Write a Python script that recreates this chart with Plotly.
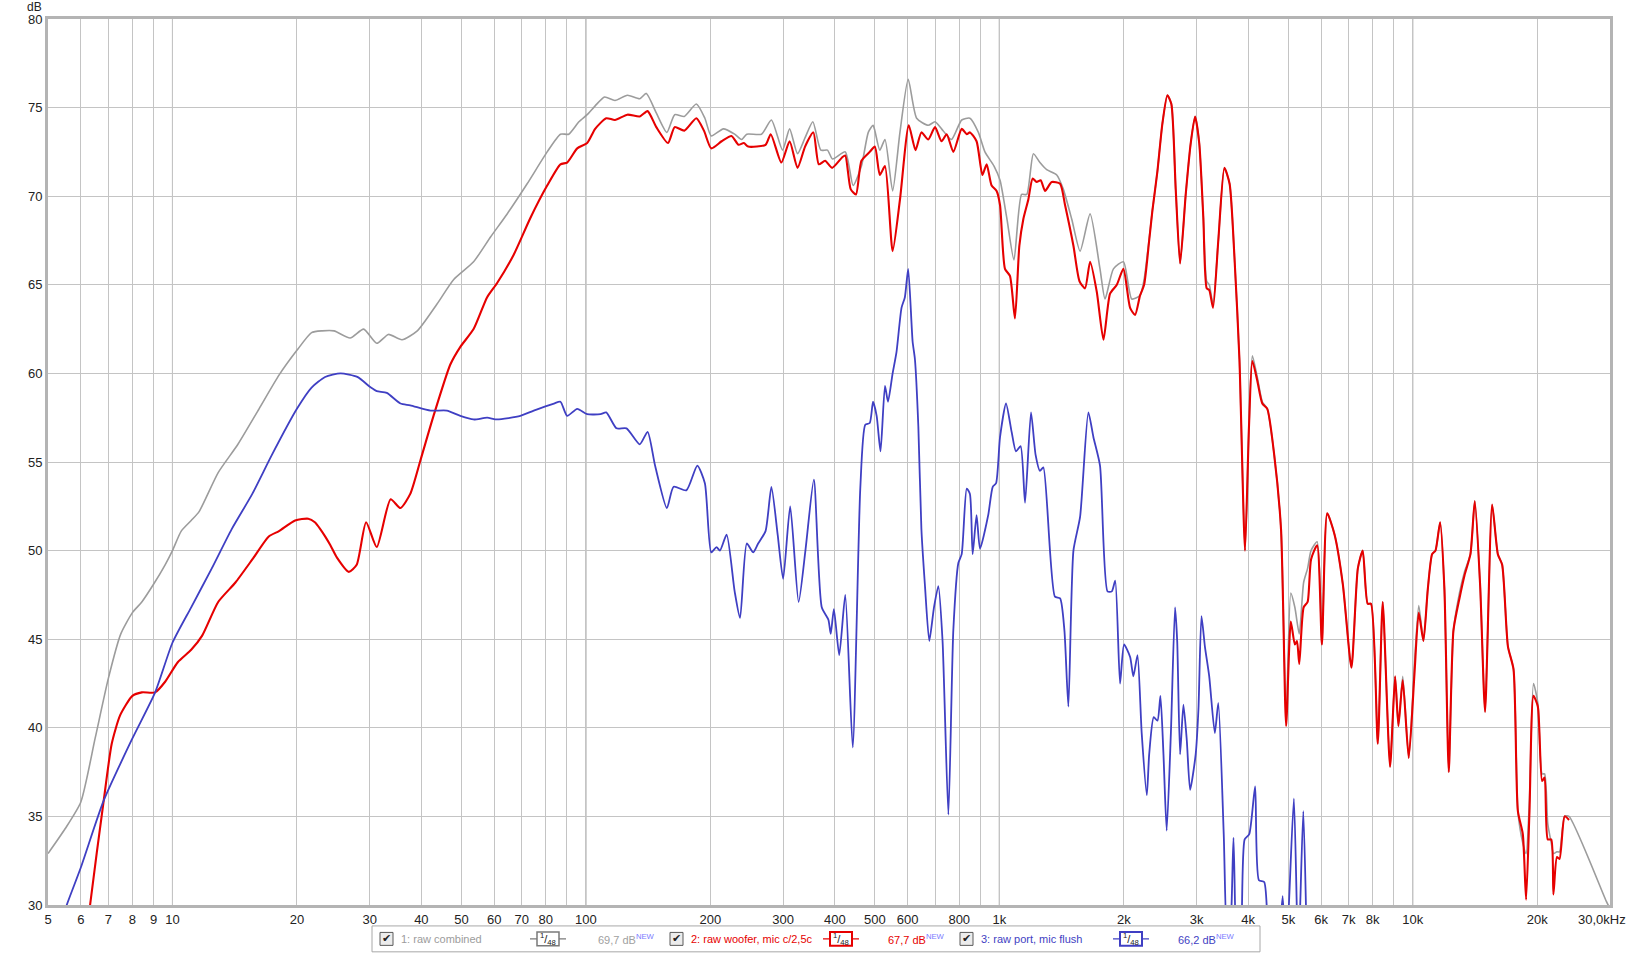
import math
import plotly.graph_objects as go

# ---------------- data ----------------
combined_freq = [5.0, 5.5, 6.0, 6.5, 7.0, 7.5, 8.0, 8.43, 9.0, 9.6, 10.0, 10.5, 11.1, 11.6, 12.9, 14.4, 16.2, 18.1,
                 20.0, 21.7, 23.0, 24.6, 26.9, 29.0, 31.2, 33.3, 35.9, 39.1, 43.6, 47.9, 53.5, 58.8, 64.5, 72.1,
                 80.6, 86.8, 90.9, 96.2, 100.7, 105.3, 111, 117.6, 126, 135, 140, 148, 157, 164, 173, 185, 194,
                 201, 215, 229, 238, 245, 266, 281, 299, 311, 325, 339, 354, 370, 384, 395, 424, 443, 464, 482,
                 495, 500, 514, 529, 552, 575, 602, 631, 673, 699, 725, 766, 811, 849, 890, 923, 971, 1004, 1042,
                 1085, 1132, 1165, 1209, 1254, 1302, 1377, 1428, 1497, 1568, 1658, 1752, 1802, 1888, 1996, 2091,
                 2190, 2240, 2346, 2412, 2480, 2550, 2607, 2671, 2737, 2824, 2904, 2975, 3045, 3115, 3174, 3220,
                 3288, 3386, 3503, 3606, 3704, 3809, 3929, 4017, 4093, 4206, 4326, 4448, 4623, 4802, 4940, 5071,
                 5186, 5315, 5446, 5568, 5675, 5871, 6030, 6210, 6471, 6775, 7107, 7366, 7569, 7780, 7925, 8230,
                 8460, 8812, 9064, 9233, 9458, 9779, 10093, 10340, 10613, 10872, 11139, 11350, 11646, 11930,
                 12222, 12545, 12970, 13340, 13790, 14127, 14558, 14960, 15560, 16063, 16455, 16990, 17530,
                 17960, 18460, 18800, 19160, 19590, 20070, 20550, 20840, 21210, 21630, 21890, 22320, 22650,
                 23300, 23880, 29400, 30000]
combined_db = [32.9, 34.3, 35.8, 39.4, 42.8, 45.3, 46.5, 47.1, 48.1, 49.2, 50.0, 51.1, 51.7, 52.2, 54.4, 56.0, 58.0, 59.9,
               61.3, 62.3, 62.4, 62.4, 62.0, 62.5, 61.7, 62.2, 61.9, 62.4, 63.9, 65.3, 66.3, 67.7, 69.0, 70.7,
               72.5, 73.5, 73.5, 74.2, 74.6, 75.1, 75.6, 75.4, 75.7, 75.5, 75.8, 74.7, 73.6, 74.6, 74.5, 75.2, 74.4,
               73.4, 73.8, 73.5, 73.2, 73.5, 73.5, 74.3, 72.6, 73.8, 72.4, 73.3, 74.2, 72.6, 72.6, 72.1, 72.5, 70.6, 71.7, 73.6,
               74.0, 73.7, 72.6, 73.2, 70.3, 73.6, 76.6, 74.4, 74.0, 74.2, 73.8, 73.2, 74.3, 74.4, 73.6, 72.5, 71.7, 70.9, 68.8,
               66.4, 70.1, 70.1, 72.4, 71.9, 71.5, 71.2, 70.4, 68.7, 66.9, 69.0, 65.9, 64.2, 65.9, 66.3, 64.2,
               64.4, 65.3, 69.2, 71.4, 74.1, 75.7, 75.2, 70.4, 66.2, 70.1, 73.0, 74.5, 73.0, 68.8, 65.2, 65.0,
               63.9, 67.5, 71.6, 70.7, 66.6, 60.8, 50.0, 57.0, 61.0, 59.8, 58.4, 58.0, 55.4, 51.2, 40.5, 47.6,
               46.8, 45.3, 48.2, 49.0, 50.0, 50.5, 44.7, 52.1, 50.9, 48.1, 43.4, 49.0, 50.0, 47.0, 47.0, 39.1,
               47.1, 37.8, 42.9, 40.1, 42.9, 38.3, 43.5, 46.9, 44.9, 47.8, 49.8, 50.0, 51.6, 47.8,
               37.5, 45.5, 47.6, 48.8, 49.8, 52.8, 48.0, 40.9, 52.6, 49.8, 49.2, 44.6, 43.3,
               35.3, 33.5, 32.9, 36.0, 42.5, 41.4, 37.4, 37.4, 34.6, 33.5, 32.9, 33.0, 33.0,
               35.0, 35.0, 30.2, 29.8]

woofer_freq = [6.2, 6.32, 6.82, 7.13, 7.47, 8.0, 8.43, 9.08, 9.6, 10.3, 11.1, 11.8, 12.9, 14.2, 15.6, 17.1, 18.1, 19.8,
               21.3, 22.1, 22.8, 23.4, 24.1, 25.0, 26.7, 27.9, 29.4, 31.2, 33.7, 35.6, 37.6, 39.8, 42.8, 47.0, 49.7,
               53.5, 57.7, 61.0, 66.9, 73.5, 80.6, 86.8, 90.1, 95.3, 100.7, 105.3, 112, 117.6, 126, 135, 141, 148,
               158, 164, 173, 185, 193, 201, 213, 225, 234, 241, 247, 272, 280, 297, 311, 325, 339, 355, 366, 379,
               394, 417, 424, 437, 450, 464, 486, 500, 514, 529, 552, 575, 604, 627, 648, 673, 699, 725, 746, 774,
               811, 834, 849, 881, 910, 932, 958, 985, 1004, 1032, 1061, 1091, 1118, 1143, 1175, 1204, 1231, 1259,
               1290, 1339, 1403, 1442, 1511, 1563, 1612, 1658, 1721, 1786, 1853, 1924, 1996, 2072, 2130, 2190,
               2240, 2304, 2346, 2412, 2480, 2550, 2607, 2671, 2737, 2824, 2904, 2975, 3045, 3115, 3174, 3220,
               3288, 3386, 3503, 3606, 3704, 3809, 3929, 4017, 4093, 4206, 4326, 4448, 4623, 4802, 4940, 5071,
               5186, 5248, 5315, 5446, 5568, 5675, 5871, 6030, 6210, 6471, 6775, 7107, 7366, 7569, 7780, 7925,
               8230, 8460, 8812, 9064, 9233, 9458, 9779, 10093, 10340, 10613, 10872, 11139, 11350, 11646, 11930,
               12222, 12545, 12970, 13340, 13790, 14127, 14558, 14960, 15560, 16063, 16455, 16990, 17530, 17960,
               18460, 18800, 19160, 19590, 20070, 20550, 20840, 21210, 21630, 21890, 22320, 22650, 23300, 23880]
woofer_db = [28.0, 30.0, 35.9, 39.1, 40.7, 41.8, 42.0, 42.0, 42.6, 43.7, 44.4, 45.2, 47.1, 48.2, 49.5, 50.8, 51.1, 51.7,
             51.8, 51.6, 51.2, 50.8, 50.3, 49.6, 48.8, 49.2, 51.6, 50.2, 52.9, 52.4, 53.2, 55.1, 57.6, 60.5, 61.5,
             62.5, 64.3, 65.1, 66.7, 68.8, 70.6, 71.8, 71.9, 72.7, 73.0, 73.8, 74.4, 74.3, 74.6, 74.5, 74.8, 73.9,
             73.0, 73.9, 73.7, 74.4, 73.7, 72.7, 73.1, 73.4, 72.9, 73.0, 72.8, 72.9, 73.5, 71.9, 73.1, 71.6, 72.8, 73.6, 71.8, 72.0,
             71.6, 72.2, 72.3, 70.4, 70.1, 72.0, 72.5, 72.8, 71.2, 71.7, 66.9, 69.8, 74.0, 72.6, 73.6, 73.2, 73.9, 73.1, 73.5, 72.5,
             73.8, 73.5, 73.6, 73.1, 71.2, 71.8, 70.6, 70.3, 69.5, 65.9, 65.5, 63.1, 67.2, 68.7, 69.8, 71.0, 70.8, 70.9,
             70.3, 70.8, 70.7, 69.5, 67.2, 65.2, 64.8, 66.3, 64.6, 61.9, 64.5, 65.0, 65.9, 63.7, 63.3, 64.4,
             65.0, 67.5, 69.2, 71.4, 74.1, 75.7, 75.2, 70.4, 66.2, 70.1, 73.0, 74.5, 73.0, 68.8, 64.8, 64.7,
             63.7, 67.5, 71.6, 70.7, 66.6, 60.8, 50.0, 57.0, 60.7, 59.6, 58.3, 58.0, 55.4, 51.2, 40.1, 46.0,
             44.7, 44.9, 43.6, 46.8, 47.1, 49.5, 50.3, 44.7, 52.1, 50.9, 48.1, 43.4, 49.0, 50.0, 47.0, 47.0,
             39.1, 47.1, 37.8, 42.9, 40.1, 42.7, 38.3, 43.0, 46.5, 44.9, 47.8, 49.8, 50.0, 51.6, 47.8,
             37.5, 45.5, 47.3, 48.6, 49.8, 52.8, 48.0, 40.9, 52.6, 49.8, 49.2, 44.6, 43.3, 35.3,
             34.0, 30.3, 35.3, 41.8, 41.2, 37.0, 37.2, 33.7, 33.7, 30.6, 32.7, 32.6, 35.0, 34.8]

port_freq = [5.3, 5.55, 6.0, 6.82, 8.0, 9.08, 10.0, 11.1, 12.45, 13.9, 15.6, 17.4, 20.0, 21.7, 23.4, 25.5, 28.0, 30.2,
             31.2, 33.0, 35.6, 37.6, 42.1, 46.1, 49.7, 53.5, 57.7, 61.0, 69.4, 74.8, 83.7, 86.8, 90.1, 95.3, 100.7,
             108.5, 112, 118.6, 125.4, 135, 141, 147, 157, 163, 175, 186, 194, 201, 207, 211, 219, 229, 236, 245,
             254, 261, 272, 281, 291, 300, 312, 327, 340, 356, 372, 386, 391, 398, 410, 424, 442, 461, 474, 486,
             495, 505, 516, 529, 538, 552, 564, 580, 591, 602, 617, 625, 637, 648, 661, 677, 695, 712, 729, 753,
             774, 796, 811, 834, 849, 862, 881, 898, 940, 964, 982, 1004, 1038, 1071, 1097, 1126, 1154, 1193,
             1224, 1254, 1278, 1363, 1403, 1437, 1469, 1511, 1568, 1642, 1689, 1752, 1827, 1871, 1907, 1959,
             2003, 2072, 2110, 2159, 2210, 2274, 2304, 2363, 2413, 2453, 2495, 2540, 2600, 2661, 2693, 2737,
             2788, 2841, 2894, 2985, 3032, 3083, 3142, 3219, 3321, 3386, 3490, 3560, 3619, 3685, 3757, 3841,
             3921, 4023, 4157, 4245, 4372, 4459, 4668, 4845, 4940, 5158, 5286, 5436, 5568, 5700]
port_db = [28.5, 30.0, 32.1, 35.9, 39.4, 42.0, 44.8, 46.8, 49.0, 51.2, 53.2, 55.4, 58.0, 59.2, 59.8, 60.0, 59.8, 59.2,
           59.0, 58.9, 58.3, 58.2, 57.9, 57.9, 57.6, 57.4, 57.5, 57.4, 57.6, 57.9, 58.3, 58.4, 57.6, 58.0, 57.7,
           57.7, 57.8, 56.9, 56.9, 56.0, 56.7, 54.8, 52.4, 53.6, 53.4, 54.8, 53.8, 49.9, 50.2, 50.0, 50.9, 47.7, 46.2, 50.4,
           49.9, 50.4, 51.1, 53.6, 50.9, 48.4, 52.5, 47.1, 50.1, 54.0, 46.8, 46.1, 45.3, 46.7, 44.1, 47.5, 38.9, 53.5, 57.1, 57.2,
           58.4, 57.6, 55.6, 59.3, 58.4, 60.0, 61.2, 63.7, 64.3, 65.9, 61.8, 60.8, 57.0, 51.2, 48.0, 44.9, 46.8, 48.0, 44.9, 35.1,
           45.5, 49.3, 49.8, 53.5, 53.2, 49.8, 52.0, 50.1, 52.0, 53.6, 53.8, 56.4, 58.3, 56.7, 55.6, 55.9, 52.7, 57.8,
           55.4, 54.5, 54.7, 47.4, 47.3, 45.5, 41.2, 50.0, 51.9, 57.8, 56.4, 54.8, 47.7, 47.7, 48.3, 42.5,
           44.7, 44.0, 42.9, 44.1, 39.7, 36.2, 38.5, 40.6, 40.4, 41.8, 38.5, 34.2, 39.7, 46.8, 44.9, 38.5,
           41.3, 39.3, 36.5, 38.5, 41.1, 46.3, 44.6, 42.9, 39.7, 41.4, 34.0, 28.0, 28.5, 33.8, 27.0, 28.0,
           33.7, 34.0, 36.7, 31.4, 31.3, 29.0, 26.0, 30.5, 27.0, 36.0, 27.0, 35.3, 26.0, 20.0]

x_tick_vals = [5, 6, 7, 8, 9, 10, 20, 30, 40, 50, 60, 70, 80, 100, 200, 300, 400, 500, 600, 800,
               1000, 2000, 3000, 4000, 5000, 6000, 7000, 8000, 10000, 20000]
x_tick_text = ["5", "6", "7", "8", "9", "10", "20", "30", "40", "50", "60", "70", "80", "100", "200", "300",
               "400", "500", "600", "800", "1k", "2k", "3k", "4k", "5k", "6k", "7k", "8k", "10k", "20k"]
x_end_label = "30,0kHz"
x_minor_grid = [90, 700, 900, 9000]
x_decades = [10, 100, 1000, 10000]
y_tick_vals = [30, 35, 40, 45, 50, 55, 60, 65, 70, 75, 80]
x_min_hz, x_max_hz = 5, 30000

legend_names = ["1: raw combined", "2: raw woofer, mic c/2,5c", "3: raw port, mic flush"]
legend_levels = ["69,7 dB", "67,7 dB", "66,2 dB"]

GRAY, RED, BLUE = "#9c9c9c", "#e60000", "#3f3fc3"

# ---------------- figure ----------------
W, H = 1633, 954
L, R, T, B = 48, 23, 16, 49
PW, PH = W - L - R, H - T - B

def pxx(x):
    return (x - L) / PW

def pyy(y):
    return (H - B - y) / PH

fig = go.Figure()
fig.add_trace(go.Scatter(x=combined_freq, y=combined_db, mode="lines",
                         line=dict(color=GRAY, width=1.6, shape="spline", smoothing=0.6),
                         hoverinfo="skip"))
fig.add_trace(go.Scatter(x=woofer_freq, y=woofer_db, mode="lines",
                         line=dict(color=RED, width=2.1, shape="spline", smoothing=0.6),
                         hoverinfo="skip"))
fig.add_trace(go.Scatter(x=port_freq, y=port_db, mode="lines",
                         line=dict(color=BLUE, width=1.8, shape="spline", smoothing=0.6),
                         hoverinfo="skip"))

shapes = []
for v in x_decades:
    shapes.append(dict(type="line", xref="x", yref="paper", x0=v, x1=v, y0=0, y1=1,
                       line=dict(color="#8a8a8a", width=1), layer="between"))

# legend box
shapes.append(dict(type="rect", xref="paper", yref="paper",
                   x0=pxx(372), x1=pxx(1260), y0=pyy(952), y1=pyy(926),
                   line=dict(color="#a8a8a8", width=1), fillcolor="white"))

FONT = "Liberation Sans, Arial"
annotations = [dict(text="dB", xref="paper", yref="paper", x=pxx(34), y=pyy(4),
                    xanchor="center", yanchor="middle", showarrow=False,
                    font=dict(family=FONT, size=12, color="#222")),
               dict(text=x_end_label, xref="paper", yref="paper", x=pxx(1628), y=pyy(920),
                    xanchor="right", yanchor="middle", showarrow=False,
                    font=dict(family=FONT, size=13, color="#222"))]

colors = [GRAY, RED, BLUE]
check_x = [380, 670, 960]
icon_x = [537, 830, 1120]
level_x = [596, 886, 1176]
yc = 939
for i in range(3):
    cx = check_x[i]
    shapes.append(dict(type="rect", xref="paper", yref="paper",
                       x0=pxx(cx), x1=pxx(cx + 13), y0=pyy(yc + 6.5), y1=pyy(yc - 6.5),
                       line=dict(color="#5a5a5a", width=1), fillcolor="#ececec"))
    annotations.append(dict(text="✔", xref="paper", yref="paper", x=pxx(cx + 6.5), y=pyy(yc),
                            xanchor="center", yanchor="middle", showarrow=False,
                            font=dict(family="DejaVu Sans", size=11, color="#202020")))
    annotations.append(dict(text=legend_names[i], xref="paper", yref="paper", x=pxx(cx + 19), y=pyy(yc),
                            xanchor="left", yanchor="middle", showarrow=False,
                            font=dict(family=FONT, size=11, color=colors[i])))
    ix = icon_x[i]
    icol = "#7a7a7a" if i == 0 else colors[i]
    shapes.append(dict(type="line", xref="paper", yref="paper", x0=pxx(ix - 7), x1=pxx(ix + 29),
                       y0=pyy(yc), y1=pyy(yc), line=dict(color=icol, width=1.2)))
    shapes.append(dict(type="rect", xref="paper", yref="paper",
                       x0=pxx(ix), x1=pxx(ix + 22), y0=pyy(yc + 7), y1=pyy(yc - 7),
                       line=dict(color=icol, width=2 if i else 1.5), fillcolor="white"))
    annotations.append(dict(text="<sup>1</sup>/<sub>48</sub>", xref="paper", yref="paper",
                            x=pxx(ix + 11), y=pyy(yc), xanchor="center", yanchor="middle", showarrow=False,
                            font=dict(family=FONT, size=11, color="#202020")))
    lvl_col = "#a0a0a0" if i == 0 else colors[i]
    annotations.append(dict(text=legend_levels[i] + "<sup><span style='color:#7b7bff'>NEW</span></sup>",
                            xref="paper", yref="paper", x=pxx(level_x[i]), y=pyy(yc),
                            xanchor="left", yanchor="middle", showarrow=False,
                            font=dict(family=FONT, size=11, color=lvl_col)))

fig.update_layout(
    width=W, height=H,
    margin=dict(l=L, r=R, t=T, b=B),
    paper_bgcolor="white", plot_bgcolor="white",
    showlegend=False,
    shapes=shapes, annotations=annotations,
    xaxis=dict(type="log", range=[math.log10(x_min_hz), math.log10(x_max_hz)], tickmode="array",
               tickvals=x_tick_vals, ticktext=x_tick_text, showgrid=True, gridcolor="#c4c4c4", gridwidth=1,
               minor=dict(tickmode="array", tickvals=x_minor_grid, showgrid=True, gridcolor="#c4c4c4", gridwidth=1),
               showline=True, linecolor="#b4b4b4", linewidth=3, mirror=True, ticks="", zeroline=False,
               tickfont=dict(family=FONT, size=13, color="#222")),
    yaxis=dict(range=[30, 80], tickmode="array", tickvals=y_tick_vals, showgrid=True,
               gridcolor="#c4c4c4", gridwidth=1, showline=True, linecolor="#b4b4b4", linewidth=3,
               mirror=True, ticks="", zeroline=False,
               tickfont=dict(family=FONT, size=13, color="#222")),
)

fig.write_html("out.html", config={"displayModeBar": False},
               post_script="document.body.style.margin='0px';document.body.style.overflow='hidden';")
